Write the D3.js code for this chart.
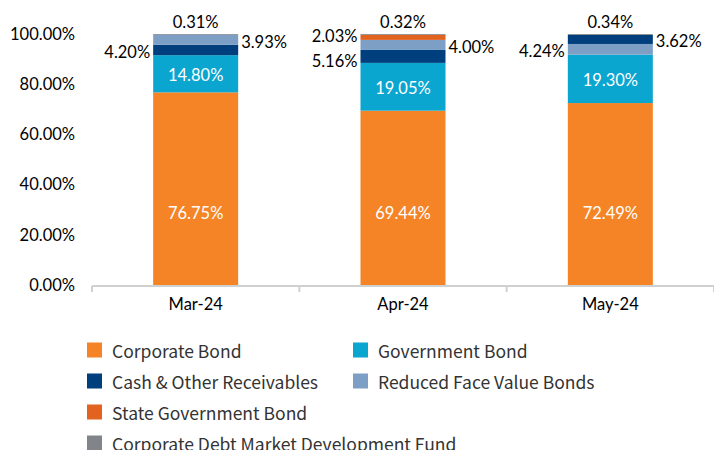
<!DOCTYPE html>
<html><head><meta charset="utf-8">
<script src="https://cdn.jsdelivr.net/npm/d3@7"></script>
<style>
body{margin:0;background:#fff;}
svg{display:block;}
</style></head>
<body><svg id="chart" width="714" height="450"></svg>
<script>
const categories = ["Mar-24", "Apr-24", "May-24"];
const seriesNames = ["Corporate Bond", "Government Bond", "Cash & Other Receivables", "Reduced Face Value Bonds", "State Government Bond", "Corporate Debt Market Development Fund"];
const corporateBond = [76.75, 69.44, 72.49];
const governmentBond = [14.80, 19.05, 19.30];
const cashOther = [4.20, 5.16, 3.62];
const reducedFaceValue = [3.93, 4.00, 4.24];
const stateGovBond = [0, 2.03, 0];
const cdmdf = [0.31, 0.32, 0.34];
// stacking order (bottom -> top) per category, as indices into seriesNames
const stackOrder = [[0,1,2,3,4,5],[0,1,2,3,4,5],[0,1,3,2,4,5]];
const yTicks = [0, 20, 40, 60, 80, 100];
const colors = ["#F58426", "#0AA6D0", "#003F7D", "#7D9FC6", "#E2631F", "#818589"];
const labelPos = ["bottom", "inside", "side", "side", "left", "top"];

const values = [corporateBond, governmentBond, cashOther, reducedFaceValue, stateGovBond, cdmdf];

const svg = d3.select("#chart");
const numFont = "Lato, 'Open Sans', sans-serif";
const legFont = "'Noto Sans CJK KR', 'Noto Sans', sans-serif";
const numSize = 16.5;

const x = d3.scaleBand().domain(categories).range([92, 714]).paddingInner(0.59).paddingOuter(0.295);
const y = d3.scaleLinear().domain([0, 100]).range([285, 34]);

// y axis labels
const yAxis = d3.axisLeft(y).tickValues(yTicks).tickFormat(d => d.toFixed(2) + "%").tickSize(0).tickPadding(0);
const gy = svg.append("g").attr("transform", "translate(75,0)").call(yAxis);
gy.select(".domain").remove();
gy.selectAll("text").attr("font-family", numFont).attr("font-size", numSize).attr("fill", "#000");

function lbl(g, xx, yy, anchor, fill, txt) {
  g.append("text").attr("x", xx).attr("y", yy).attr("text-anchor", anchor)
    .attr("dominant-baseline", "central").attr("font-family", numFont).attr("font-size", numSize)
    .attr("fill", fill).text(txt);
}

// bars
categories.forEach((c, ci) => {
  let base = 0;
  const segs = [];
  stackOrder[ci].forEach(si => {
    const v = values[si][ci];
    if (v > 0) segs.push({si, v, y0: base, y1: base + v});
    base += v;
  });
  const g = svg.append("g");
  g.selectAll("rect").data(segs).join("rect")
    .attr("x", x(c)).attr("width", x.bandwidth())
    .attr("y", d => y(d.y1)).attr("height", d => y(d.y0) - y(d.y1))
    .attr("fill", d => colors[d.si]);

  const left = [], right = [];
  segs.filter(d => labelPos[d.si] === "side").forEach((d, i) => (i === 0 ? left : right).push(d));
  segs.filter(d => labelPos[d.si] === "left").forEach(d => left.push(d));
  function place(arr) {
    arr.forEach(d => d.ly = y((d.y0 + d.y1) / 2) + 2);
    arr.sort((a, b) => a.ly - b.ly);
    for (let k = 1; k < arr.length; k++) {
      const gap = arr[k].ly - arr[k-1].ly;
      if (gap < 25) { const p = (25 - gap) / 2; arr[k].ly += p; arr[k-1].ly -= p; }
    }
  }
  place(left); place(right);
  const fmt = v => v.toFixed(2) + "%";
  left.forEach(d => lbl(g, x(c) - 3, d.ly, "end", "#000", fmt(d.v)));
  right.forEach(d => lbl(g, x(c) + x.bandwidth() + 3, d.ly, "start", "#000", fmt(d.v)));
  segs.filter(d => labelPos[d.si] === "inside").forEach(d =>
    lbl(g, x(c) + x.bandwidth() / 2, y((d.y0 + d.y1) / 2) + 1, "middle", "#fff", fmt(d.v)));
  segs.filter(d => labelPos[d.si] === "bottom").forEach(d =>
    lbl(g, x(c) + x.bandwidth() / 2, y(28.7), "middle", "#fff", fmt(d.v)));
  segs.filter(d => labelPos[d.si] === "top").forEach(d =>
    lbl(g, x(c) + x.bandwidth() / 2, y(d.y1) - 12, "middle", "#000", fmt(d.v)));
});

// x axis
const xAxis = d3.axisBottom(x).tickSize(0).tickPadding(12);
const gx = svg.append("g").attr("transform", "translate(0,286)").call(xAxis);
gx.select(".domain").attr("stroke", "#D0D0D0").attr("stroke-width", 2).attr("d", "M92,0H714");
gx.selectAll("text").attr("font-family", numFont).attr("font-size", numSize).attr("fill", "#000");
const tickXs = d3.range(categories.length + 1).map(i => 92 + i * x.step());
gx.selectAll(".bt").data(tickXs).join("line").attr("class", "bt")
  .attr("x1", d => d).attr("x2", d => d).attr("y1", 0).attr("y2", 6)
  .attr("stroke", "#D0D0D0").attr("stroke-width", 2);

// legend
const legendItems = seriesNames.map((n, i) => ({n, i, col: [0,1,0,1,0,0][i], row: [0,0,1,1,2,3][i]}));
const lg = svg.append("g");
const li = lg.selectAll("g").data(legendItems).join("g")
  .attr("transform", d => `translate(${d.col ? 353 : 87},${350 + d.row * 31})`);
li.append("rect").attr("x", 0).attr("y", -7.5).attr("width", 15).attr("height", 15).attr("fill", d => colors[d.i]);
li.append("text").attr("x", 25).attr("y", 0).attr("dominant-baseline", "central")
  .attr("font-family", legFont).attr("font-size", 17.5).attr("fill", "#333").text(d => d.n);
</script></body></html>
